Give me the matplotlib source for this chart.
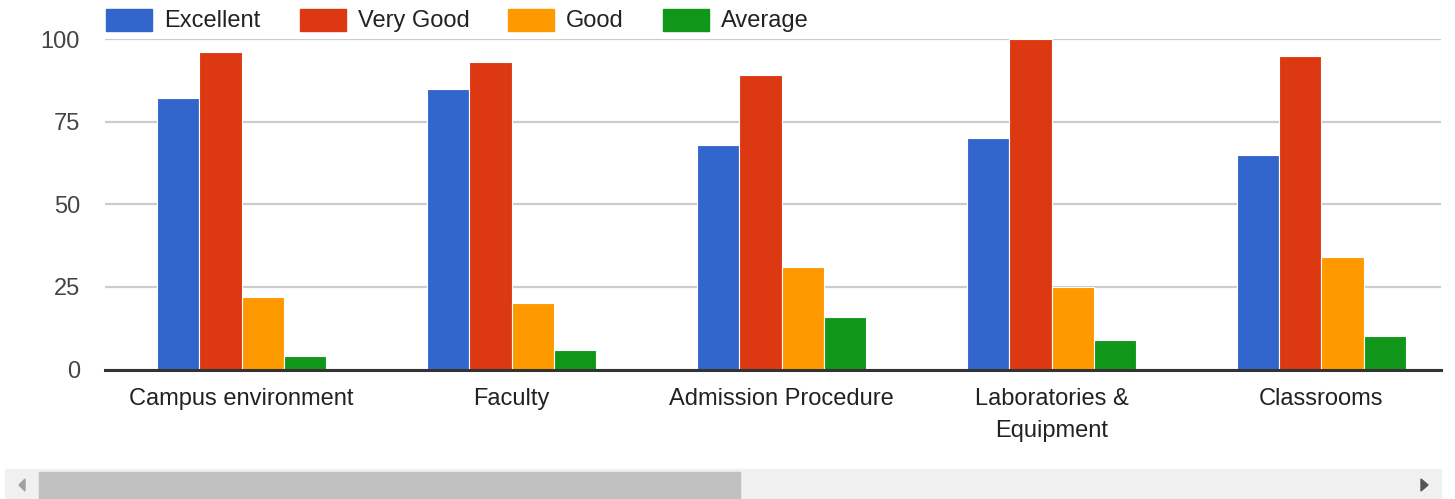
import matplotlib.pyplot as plt
from matplotlib.patches import Rectangle, Polygon
import numpy as np

plt.rcParams['font.family'] = ['Liberation Sans', 'DejaVu Sans']

categories = ['Campus environment', 'Faculty', 'Admission Procedure',
              'Laboratories &\nEquipment', 'Classrooms']
series_names = ['Excellent', 'Very Good', 'Good', 'Average']
excellent = [82, 85, 68, 70, 65]
very_good = [96, 93, 89, 100, 95]
good = [22, 20, 31, 25, 34]
average = [4, 6, 16, 9, 10]
yticks = [0, 25, 50, 75, 100]

colors = ['#3366cc', '#dc3912', '#ff9900', '#109618']
W, H = 1455, 499

fig = plt.figure(figsize=(W / 100, H / 100), dpi=100)
ax = fig.add_axes([105 / W, (H - 369.5) / H, (1441 - 105) / W, (369.5 - 39) / H])

x = np.arange(len(categories))
bw = 0.1565
for i, vals in enumerate([excellent, very_good, good, average]):
    ax.bar(x + (i - 1.5) * bw, vals, bw, color=colors[i], edgecolor='white',
           linewidth=0.8, zorder=3, clip_on=False)

ax.set_xlim(-0.5056, 4.4426)
ax.set_ylim(0, 100)
ax.set_yticks(yticks)
ax.set_yticklabels([str(t) for t in yticks])
ax.set_xticks(x)
ax.set_xticklabels(categories, linespacing=1.6)
ax.tick_params(axis='y', length=0, pad=18, labelsize=17, labelcolor='#444444')
ax.tick_params(axis='x', length=0, pad=13.5, labelsize=17, labelcolor='#222222')
for t in ax.get_xticklabels():
    t.set_verticalalignment('top')

ax.grid(axis='y', color='#cccccc', linewidth=1.6, zorder=0)
for s in ['top', 'right', 'left']:
    ax.spines[s].set_visible(False)
ax.spines['bottom'].set_color('#333333')
ax.spines['bottom'].set_linewidth(2.2)
ax.spines['bottom'].set_zorder(4)

# legend drawn by hand along the top
swatch_x = [106, 300, 508, 663]
for i, name in enumerate(series_names):
    fig.add_artist(Rectangle((swatch_x[i] / W, (H - 31) / H), 46 / W, 22 / H,
                             transform=fig.transFigure, color=colors[i]))
    fig.text((swatch_x[i] + 58) / W, (H - 21) / H, name, fontsize=17,
             color='#222222', va='center', ha='left')

# scrollbar
fig.add_artist(Rectangle((5 / W, 0), (1441 - 5) / W, 30 / H,
                         transform=fig.transFigure, color='#f0f0f0'))
fig.add_artist(Rectangle((39 / W, 0), (740 - 39) / W, 27 / H,
                         transform=fig.transFigure, color='#c0c0c0'))
fig.add_artist(Polygon([(25 / W, 20 / H), (25 / W, 8 / H), (19 / W, 14 / H)],
                       transform=fig.transFigure, color='#a0a0a0'))
fig.add_artist(Polygon([(1421 / W, 20 / H), (1421 / W, 8 / H), (1428 / W, 14 / H)],
                       transform=fig.transFigure, color='#555555'))

fig.savefig('out.png', dpi=100)
